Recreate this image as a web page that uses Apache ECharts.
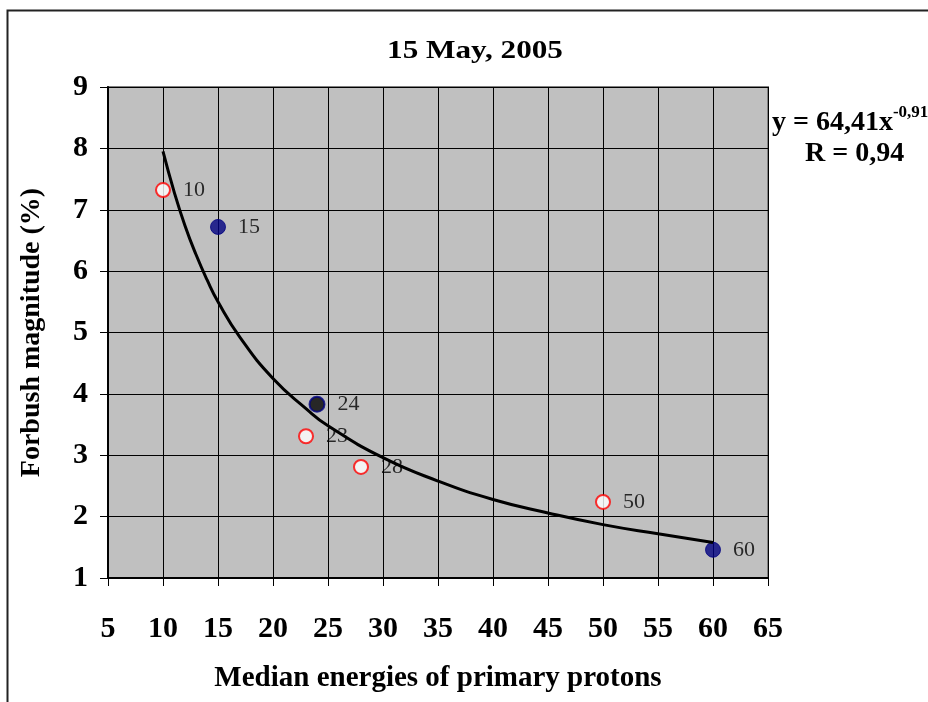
<!DOCTYPE html>
<html>
<head>
<meta charset="utf-8">
<script src="https://cdn.jsdelivr.net/npm/echarts@6/dist/echarts.min.js"></script>
<style>html,body{margin:0;padding:0;background:#fff;}#c{width:928px;height:702px;}</style>
</head>
<body>
<div id="c"></div>
<script>
// Open (red-outlined) points: median energy, Forbush magnitude
const openX = [10, 23, 28, 50];
const openY = [7.32, 3.31, 2.81, 2.24];
// Filled navy points
const filledX = [15, 60];
const filledY = [6.72, 1.46];
// Dark point
const darkX = [24];
const darkY = [3.83];
// Trend curve
const curveX = [10, 11, 12, 13, 14, 15, 17, 20, 23, 25, 30, 35, 40, 45, 50, 55, 60];
const curveY = [7.95, 7.3, 6.74, 6.27, 5.86, 5.5, 4.92, 4.25, 3.76, 3.48, 2.96, 2.58, 2.28, 2.06, 1.87, 1.72, 1.58];
const xTicks = [5, 65, 5];
const yTicks = [1, 9, 1];

const serif = '"Liberation Serif", "Times New Roman", serif';
function pairs(xs, ys){ return xs.map((x,i)=>[x, ys[i]]); }
const lbl = {show:true, position:'right', distance:12, formatter:p=>String(p.value[0]), color:'#000', fontFamily:serif, fontSize:22};

const chart = echarts.init(document.getElementById('c'));
chart.setOption({
  animation:false,
  backgroundColor:'#fff',
  grid:{left:108, right:160, top:87, bottom:124, show:true, backgroundColor:'#C0C0C0', borderColor:'#808080', borderWidth:2},
  xAxis:{type:'value', min:xTicks[0], max:xTicks[1], interval:xTicks[2],
    name:'Median energies of primary protons', nameLocation:'middle', nameGap:86,
    nameTextStyle:{fontFamily:serif, fontWeight:'bold', fontSize:29, color:'#000'},
    axisLine:{lineStyle:{color:'#000', width:2}},
    axisTick:{show:true, length:8, lineStyle:{color:'#000'}},
    axisLabel:{margin:36, fontFamily:serif, fontWeight:'bold', fontSize:30, color:'#000'},
    splitLine:{show:true, lineStyle:{color:'#000', width:1}}},
  yAxis:{type:'value', min:yTicks[0], max:yTicks[1], interval:yTicks[2],
    name:'Forbush magnitude (%)', nameLocation:'middle', nameGap:62, nameRotate:90,
    nameTextStyle:{fontFamily:serif, fontWeight:'bold', fontSize:28, color:'#000'},
    axisLine:{show:true, lineStyle:{color:'#000', width:2}},
    axisTick:{show:true, length:8, lineStyle:{color:'#000'}},
    axisLabel:{margin:20, fontFamily:serif, fontWeight:'bold', fontSize:30, color:'#000'},
    splitLine:{show:true, lineStyle:{color:'#000', width:1}}},
  series:[
    {type:'scatter', data:pairs(openX, openY), symbolSize:14, z:3,
      itemStyle:{color:'#fff', borderColor:'#ff0000', borderWidth:2}, label:lbl},
    {type:'scatter', data:pairs(filledX, filledY), symbolSize:15, z:3,
      itemStyle:{color:'#000080', borderColor:'#000080', borderWidth:1}, label:lbl},
    {type:'scatter', data:pairs(darkX, darkY), symbolSize:15, z:3,
      itemStyle:{color:'#000', borderColor:'#000080', borderWidth:2}, label:lbl},
    {type:'line', data:pairs(curveX, curveY), smooth:true, showSymbol:false, z:4,
      lineStyle:{color:'#000', width:3}}
  ],
  graphic:[
    {type:'rect', left:5, top:8, shape:{width:1000, height:800}, silent:true, z:-10,
      style:{fill:'none', stroke:'#222', lineWidth:2}},
    {type:'text', x:475, y:51, scaleX:1.2, z:10,
      style:{text:'15 May, 2005', fontFamily:serif, fontWeight:'bold', fontSize:26, fill:'#000', align:'center', verticalAlign:'middle'}},
    {type:'text', left:772, top:104, z:10,
      style:{text:'{b|y = 64,41x}{s|-0,91}', rich:{
        b:{fontFamily:serif, fontWeight:'bold', fontSize:28, fill:'#000', verticalAlign:'bottom'},
        s:{fontFamily:serif, fontWeight:'bold', fontSize:17, fill:'#000', verticalAlign:'top', padding:[0,0,16,0]}}}},
    {type:'text', left:805, top:140, z:10,
      style:{text:'R = 0,94', fontFamily:serif, fontWeight:'bold', fontSize:28, fill:'#000'}}
  ]
});
</script>
</body>
</html>
